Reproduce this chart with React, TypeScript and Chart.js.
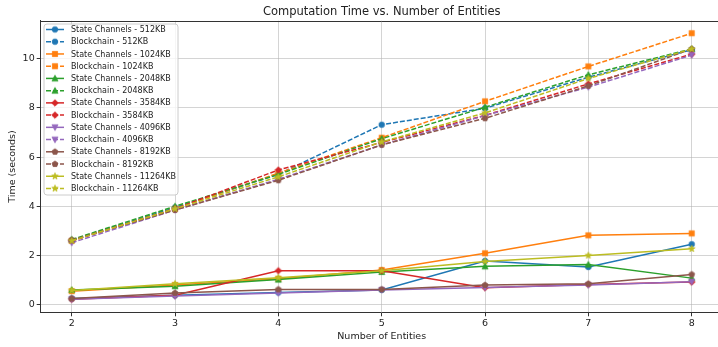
import React, { useEffect, useRef } from 'react';
import { Chart, registerables } from 'chart.js';

Chart.register(...registerables);

// ---- data ----
const entities = [2, 3, 4, 5, 6, 7, 8];
const xTicks = [2, 3, 4, 5, 6, 7, 8];
const yTicks = [0, 2, 4, 6, 8, 10];
const sizes = ['512KB', '1024KB', '2048KB', '3584KB', '4096KB', '8192KB', '11264KB'];
const colors = ['#1f77b4', '#ff7f0e', '#2ca02c', '#d62728', '#9467bd', '#8c564b', '#bcbd22'];
const markers = ['circle', 'square', 'triangleUp', 'diamond', 'triangleDown', 'pentagon', 'star'];

const sc512 = [0.25, 0.38, 0.5, 0.6, 1.78, 1.53, 2.46];
const sc1024 = [0.55, 0.8, 1.05, 1.41, 2.09, 2.82, 2.9];
const sc2048 = [0.6, 0.75, 1.02, 1.33, 1.56, 1.63, 1.08];
const sc3584 = [0.22, 0.38, 1.38, 1.38, 0.69, 0.82, 0.92];
const sc4096 = [0.22, 0.35, 0.47, 0.6, 0.7, 0.8, 0.93];
const sc8192 = [0.25, 0.48, 0.62, 0.62, 0.8, 0.85, 1.23];
const sc11264 = [0.58, 0.85, 1.1, 1.38, 1.76, 2.0, 2.27];

const bc512 = [2.62, 3.95, 5.3, 7.32, 7.99, 9.25, 10.37];
const bc1024 = [2.6, 3.9, 5.35, 6.79, 8.27, 9.69, 11.04];
const bc2048 = [2.65, 4.0, 5.3, 6.75, 8.03, 9.35, 10.4];
const bc3584 = [2.6, 3.9, 5.48, 6.6, 7.7, 8.98, 10.19];
const bc4096 = [2.52, 3.85, 5.1, 6.5, 7.69, 8.85, 10.15];
const bc8192 = [2.62, 3.85, 5.06, 6.5, 7.58, 8.9, 10.4];
const bc11264 = [2.6, 3.9, 5.2, 6.62, 7.8, 9.2, 10.4];

const stateSeries = [sc512, sc1024, sc2048, sc3584, sc4096, sc8192, sc11264];
const chainSeries = [bc512, bc1024, bc2048, bc3584, bc4096, bc8192, bc11264];

const FONT = "'DejaVu Sans', sans-serif";

function makeMarker(shape: string, color: string): HTMLCanvasElement {
  const c = document.createElement('canvas');
  c.width = 12;
  c.height = 12;
  const g = c.getContext('2d')!;
  const cx = 6, cy = 6;
  g.fillStyle = color;
  g.strokeStyle = color;
  g.lineWidth = 0.8;
  g.beginPath();
  if (shape === 'circle') {
    g.arc(cx, cy, 2.8, 0, Math.PI * 2);
  } else if (shape === 'square') {
    g.rect(cx - 2.6, cy - 2.6, 5.2, 5.2);
  } else if (shape === 'triangleUp') {
    g.moveTo(cx, cy - 3.2);
    g.lineTo(cx - 3.0, cy + 2.6);
    g.lineTo(cx + 3.0, cy + 2.6);
    g.closePath();
  } else if (shape === 'triangleDown') {
    g.moveTo(cx, cy + 3.2);
    g.lineTo(cx - 3.0, cy - 2.6);
    g.lineTo(cx + 3.0, cy - 2.6);
    g.closePath();
  } else if (shape === 'diamond') {
    g.moveTo(cx, cy - 3.3);
    g.lineTo(cx + 3.3, cy);
    g.lineTo(cx, cy + 3.3);
    g.lineTo(cx - 3.3, cy);
    g.closePath();
  } else if (shape === 'pentagon') {
    for (let k = 0; k < 5; k++) {
      const a = -Math.PI / 2 + (k * 2 * Math.PI) / 5;
      const px = cx + 3.1 * Math.cos(a), py = cy + 3.1 * Math.sin(a);
      if (k === 0) g.moveTo(px, py); else g.lineTo(px, py);
    }
    g.closePath();
  } else if (shape === 'star') {
    for (let k = 0; k < 10; k++) {
      const a = -Math.PI / 2 + (k * Math.PI) / 5;
      const r = k % 2 === 0 ? 3.4 : 1.4;
      const px = cx + r * Math.cos(a), py = cy + r * Math.sin(a);
      if (k === 0) g.moveTo(px, py); else g.lineTo(px, py);
    }
    g.closePath();
  }
  g.fill();
  g.stroke();
  return c;
}

const customPlugin = {
  id: 'mplDecor',
  afterDraw(chart: any) {
    const ctx = chart.ctx as CanvasRenderingContext2D;
    const area = chart.chartArea;
    ctx.save();
    // top spine
    ctx.strokeStyle = '#333';
    ctx.lineWidth = 1;
    ctx.beginPath();
    ctx.moveTo(area.left, Math.round(area.top) + 0.5);
    ctx.lineTo(area.right, Math.round(area.top) + 0.5);
    ctx.stroke();

    // title
    ctx.fillStyle = '#222';
    ctx.font = `11.5px ${FONT}`;
    ctx.textAlign = 'center';
    ctx.textBaseline = 'middle';
    ctx.fillText('Computation Time vs. Number of Entities', (area.left + area.right) / 2, 12);

    // legend
    const bx = 44, by = 24, bw = 134, bh = 171, r = 3;
    ctx.beginPath();
    ctx.moveTo(bx + r, by);
    ctx.lineTo(bx + bw - r, by);
    ctx.arcTo(bx + bw, by, bx + bw, by + r, r);
    ctx.lineTo(bx + bw, by + bh - r);
    ctx.arcTo(bx + bw, by + bh, bx + bw - r, by + bh, r);
    ctx.lineTo(bx + r, by + bh);
    ctx.arcTo(bx, by + bh, bx, by + bh - r, r);
    ctx.lineTo(bx, by + r);
    ctx.arcTo(bx, by, bx + r, by, r);
    ctx.closePath();
    ctx.fillStyle = 'rgba(255,255,255,0.8)';
    ctx.fill();
    ctx.strokeStyle = '#cccccc';
    ctx.lineWidth = 1;
    ctx.stroke();

    const datasets = chart.data.datasets;
    ctx.font = `8px ${FONT}`;
    ctx.textAlign = 'left';
    datasets.forEach((ds: any, i: number) => {
      const y = 29.5 + i * 12.23;
      ctx.strokeStyle = ds.borderColor;
      ctx.lineWidth = 1.5;
      ctx.setLineDash(ds.borderDash || []);
      ctx.beginPath();
      ctx.moveTo(46, y);
      ctx.lineTo(64, y);
      ctx.stroke();
      ctx.setLineDash([]);
      const img = ds.pointStyle as HTMLCanvasElement;
      ctx.drawImage(img, 55 - img.width / 2, y - img.height / 2);
      ctx.fillStyle = '#222';
      ctx.fillText(ds.label, 71, y + 0.5);
    });
    ctx.restore();
  },
};

export default function App() {
  const ref = useRef<HTMLCanvasElement | null>(null);

  useEffect(() => {
    if (!ref.current) return;
    const datasets: any[] = [];
    sizes.forEach((s, i) => {
      const mk = makeMarker(markers[i], colors[i]);
      datasets.push({
        label: `State Channels - ${s}`,
        data: entities.map((x, j) => ({ x, y: stateSeries[i][j] })),
        borderColor: colors[i],
        backgroundColor: colors[i],
        borderWidth: 1.5,
        borderDash: [],
        pointStyle: mk,
        pointRadius: 3,
        fill: false,
        tension: 0,
      });
      datasets.push({
        label: `Blockchain - ${s}`,
        data: entities.map((x, j) => ({ x, y: chainSeries[i][j] })),
        borderColor: colors[i],
        backgroundColor: colors[i],
        borderWidth: 1.5,
        borderDash: [5, 2],
        pointStyle: mk,
        pointRadius: 3,
        fill: false,
        tension: 0,
      });
    });
    const n = datasets.length;
    datasets.forEach((d, i) => (d.order = n - i));

    const chart = new Chart(ref.current, {
      type: 'line',
      data: { datasets },
      options: {
        animation: false,
        responsive: false,
        devicePixelRatio: 1,
        layout: { padding: { top: 20.7, right: 41.3, bottom: 0, left: 0 } },
        plugins: {
          legend: { display: false },
          title: { display: false },
          tooltip: { enabled: false },
        },
        scales: {
          x: {
            type: 'linear',
            min: 1.7,
            max: 8.3,
            afterBuildTicks: (scale: any) => {
              scale.ticks = xTicks.map((v) => ({ value: v }));
            },
            afterFit: (scale: any) => {
              scale.height = 34.7;
            },
            ticks: {
              color: '#222',
              font: { family: FONT, size: 9.5 },
              padding: 2,
              maxRotation: 0,
              autoSkip: false,
            },
            grid: {
              color: 'rgba(176,176,176,0.55)',
              lineWidth: 1,
              tickColor: '#333',
              tickLength: 4,
            },
            border: { display: true, color: '#333', width: 1 },
            title: {
              display: true,
              text: 'Number of Entities',
              color: '#222',
              font: { family: FONT, size: 9.5 },
              padding: { top: 0, bottom: 5 },
            },
          },
          y: {
            type: 'linear',
            min: -0.31,
            max: 11.55,
            afterBuildTicks: (scale: any) => {
              scale.ticks = yTicks.map((v) => ({ value: v }));
            },
            afterFit: (scale: any) => {
              scale.width = 40.7;
            },
            ticks: {
              color: '#222',
              font: { family: FONT, size: 9.5 },
              padding: 2,
              autoSkip: false,
            },
            grid: {
              color: 'rgba(176,176,176,0.55)',
              lineWidth: 1,
              tickColor: '#333',
              tickLength: 4,
            },
            border: { display: true, color: '#333', width: 1 },
            title: {
              display: true,
              text: 'Time (seconds)',
              color: '#222',
              font: { family: FONT, size: 9.5 },
              padding: { top: 7.3, bottom: 0 },
            },
          },
        },
      },
      plugins: [customPlugin],
    });
    return () => chart.destroy();
  }, []);

  return (
    <div
      style={{
        position: 'fixed',
        left: 0,
        top: 0,
        width: 718,
        height: 347,
        overflow: 'hidden',
        background: '#fff',
      }}
    >
      <canvas ref={ref} width={764} height={347} style={{ width: 764, height: 347, display: 'block' }} />
    </div>
  );
}
